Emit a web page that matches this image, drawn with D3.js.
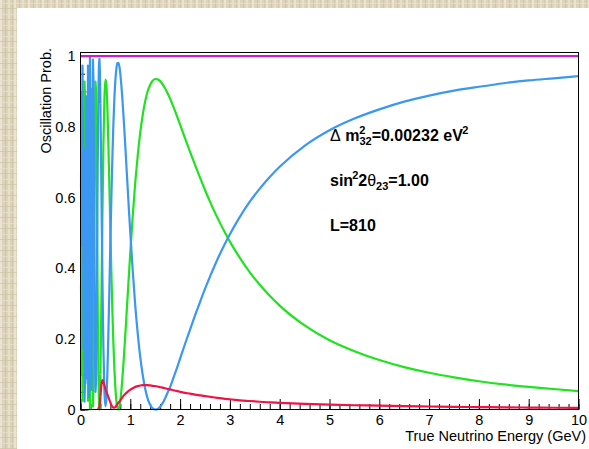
<!DOCTYPE html>
<html>
<head>
<meta charset="utf-8">
<script src="https://cdn.jsdelivr.net/npm/d3@7"></script>
<style>
body { margin: 0; }
svg { display: block; font-family: "Liberation Sans", Arial, sans-serif; }
</style>
</head>
<body>
<svg id="svg" width="589" height="449"></svg>
<script>
const width = 589;
const height = 449;

// true neutrino energy (GeV)
const energies = [
	0.01, 0.02, 0.03, 0.04, 0.05, 0.06, 0.07, 0.08, 0.09, 0.10,
	0.11, 0.12, 0.13, 0.14, 0.15, 0.16, 0.17, 0.18, 0.19, 0.20,
	0.21, 0.22, 0.23, 0.24, 0.25, 0.26, 0.27, 0.28, 0.29, 0.30,
	0.31, 0.32, 0.33, 0.34, 0.35, 0.36, 0.37, 0.38, 0.39,
	0.40, 0.42, 0.44, 0.46, 0.48, 0.50, 0.52, 0.54, 0.56, 0.58,
	0.60, 0.62, 0.64, 0.66, 0.68, 0.70, 0.72, 0.74, 0.76, 0.78,
	0.80, 0.82, 0.84, 0.86, 0.88, 0.90, 0.92, 0.94, 0.96, 0.98, 1.00,
	1.05, 1.10, 1.15, 1.20, 1.25, 1.30, 1.35, 1.40, 1.45, 1.50,
	1.55, 1.60, 1.65, 1.70, 1.75, 1.80, 1.85, 1.90, 1.95, 2.00,
	2.1, 2.2, 2.3, 2.4, 2.5, 2.6, 2.7, 2.8, 2.9, 3.0,
	3.2, 3.4, 3.6, 3.8, 4.0,
	4.5, 5.0, 5.5, 6.0, 6.5, 7.0, 7.5, 8.0, 8.5, 9.0, 9.5, 10.0
];

// numu -> numu (blue)
const numuSurvival = [
	.628, .897, .464, .973, .776, .171, .736, .022, .073, .074,
	.886, .310, .745, .087, .973, .468, .035, .631, .998, .632,
	.135, .055, .378, .780, .990, .933, .686, .389, .157, .050,
	.074, .201, .386, .585, .763, .897, .975, .992, .953,
	.865, .619, .369, .174, .053, .009, .032, .105, .215, .342,
	.474, .600, .712, .806, .879, .931, .964, .980, .981, .971,
	.949, .918, .881, .838, .792, .744, .694, .645, .595, .547, .500,
	.390, .293, .214, .148, .097, .058, .030, .013, .003, .000,
	.001, .008, .018, .032, .048, .064, .083, .103, .123, .144,
	.186, .226, .266, .304, .341, .376, .409, .440, .469, .496,
	.545, .588, .625, .658, .687,
	.746, .790, .823, .849, .871, .888, .902, .913, .923, .931, .937, .943
];

// numu -> nutau (green)
const nutauAppearance = [
	.352, .098, .506, .025, .212, .784, .250, .928, .879, .879,
	.108, .655, .242, .868, .025, .506, .919, .352, .001, .352,
	.829, .907, .598, .212, .009, .065, .304, .593, .821, .928,
	.907, .784, .603, .407, .231, .099, .021, .000, .029,
	.099, .311, .548, .748, .879, .933, .918, .852, .750, .631,
	.506, .387, .280, .189, .116, .062, .025, .005, .000, .007,
	.025, .052, .085, .124, .167, .212, .259, .306, .353, .399, .444,
	.550, .643, .720, .784, .834, .873, .901, .919, .930, .935,
	.934, .929, .920, .908, .894, .879, .862, .844, .825, .806,
	.767, .729, .692, .656, .621, .588, .557, .528, .501, .475,
	.429, .388, .353, .322, .294,
	.238, .196, .165, .140, .120, .104, .091, .080, .071, .064, .058, .052
];

// numu -> nue (red), hidden under the blue band at low energy
const nueAppearance = [
	null, null, null, null, null, null, null, null, null, null,
	null, null, null, null, null, null, null, null, null, null,
	null, null, null, null, null, null, null, null, null, null,
	null, null, null, null, .006, .004, .004, .008, .018,
	.036, .070, .083, .078, .068, .058, .050, .043, .035, .027,
	.020, .013, .008, .005, .005, .007, .011, .015, .019, .022,
	.026, .030, .034, .038, .041, .044, .047, .049, .052, .054, .056,
	.060, .064, .066, .068, .069, .069, .069, .068, .067, .066,
	.065, .063, .062, .060, .058, .057, .055, .053, .052, .050,
	.047, .045, .042, .040, .038, .036, .034, .032, .030, .029,
	.026, .024, .022, .020, .019,
	.016, .0136, .012, .011, .0095, .0085, .0075, .0068, .006, .0055, .005, .0045
];

// sum of all flavours (magenta)
const totalEnergies = [0, 10];
const totalProb = [1, 1];

const xTickValues = [0, 1, 2, 3, 4, 5, 6, 7, 8, 9, 10];
const yTickValues = [0, 0.2, 0.4, 0.6, 0.8, 1];
const yTickLabels = ['0', '0.2', '0.4', '0.6', '0.8', '1'];

const frame = { left: 80.5, right: 578.5, top: 52.5, bottom: 409.5 };
const tickFont = 14.5;
const titleFont = 14.5;
const splitEnergy = 0.40;

const svg = d3.select('#svg');

drawBackground();

const xScale = d3.scaleLinear().domain([0, 10]).range([frame.left, frame.right]);
const yScale = d3.scaleLinear().domain([0, 1.01]).range([frame.bottom, frame.top]);

drawAxes();
drawCurves();
drawLabels();

svg.append('rect')
	.attr('x', frame.left)
	.attr('y', frame.top)
	.attr('width', frame.right - frame.left)
	.attr('height', frame.bottom - frame.top)
	.attr('fill', 'none')
	.attr('stroke', '#000')
	.attr('stroke-width', 1);


function drawBackground() {
	const defs = svg.append('defs');
	const pat = defs.append('pattern')
		.attr('id', 'paper')
		.attr('patternUnits', 'userSpaceOnUse')
		.attr('width', 14)
		.attr('height', 11);
	pat.append('rect').attr('width', 14).attr('height', 11).attr('fill', '#dcd3ba');
	[[0, 2, '#ebe4d2'], [5, 1, '#cfc5a8'], [8, 2, '#e6dfcb'], [12, 1, '#d2c9ad']].forEach(s => {
		pat.append('rect').attr('x', s[0]).attr('y', 0).attr('width', s[1]).attr('height', 11).attr('fill', s[2]);
	});
	[[3, 1, '#e9e2cf'], [8, 1, '#cdc3a6']].forEach(s => {
		pat.append('rect').attr('x', 0).attr('y', s[0]).attr('width', 14).attr('height', s[1])
			.attr('fill', s[2]).attr('opacity', 0.7);
	});

	svg.append('rect').attr('width', width).attr('height', height).attr('fill', 'url(#paper)');
	svg.append('rect').attr('x', 17).attr('y', 8).attr('width', width - 17).attr('height', height - 8).attr('fill', '#fff');
}

function drawAxes() {
	const xMinor = svg.append('g')
		.attr('transform', 'translate(0,' + frame.bottom + ')')
		.call(d3.axisBottom(xScale).tickValues(d3.range(0, 10.001, 0.2)).tickSize(-5.5).tickFormat(''));
	const xMajor = svg.append('g')
		.attr('transform', 'translate(0,' + frame.bottom + ')')
		.call(d3.axisBottom(xScale).tickValues(xTickValues).tickSize(-10.5).tickPadding(5.5).tickFormat(d3.format('d')));

	const yMinor = svg.append('g')
		.attr('transform', 'translate(' + frame.left + ',0)')
		.call(d3.axisLeft(yScale).tickValues(d3.range(0, 1.001, 0.05)).tickSize(-4.5).tickFormat(''));
	const yMid = svg.append('g')
		.attr('transform', 'translate(' + frame.left + ',0)')
		.call(d3.axisLeft(yScale).tickValues(d3.range(0.1, 1.001, 0.2)).tickSize(-6).tickFormat(''));
	const yMajor = svg.append('g')
		.attr('transform', 'translate(' + frame.left + ',0)')
		.call(d3.axisLeft(yScale).tickValues(yTickValues).tickSize(-8).tickPadding(5)
			.tickFormat((d, i) => yTickLabels[i]));

	[xMinor, xMajor, yMinor, yMid, yMajor].forEach(g => {
		g.select('.domain').remove();
		g.selectAll('line').attr('stroke', '#000').attr('stroke-width', 1);
		g.selectAll('text')
			.attr('fill', '#000')
			.style('font-family', '"Liberation Sans", Arial, sans-serif')
			.style('font-size', tickFont + 'px');
	});
}

function drawCurves() {
	// green first so the fast blue oscillations cover it at low energy
	const series = [
		{ values: nutauAppearance, color: '#1fe31f' },
		{ values: numuSurvival, color: '#3a97f2' },
		{ values: nueAppearance, color: '#ee1446' }
	];

	// sharp polyline for the aliased low-energy part, smooth above it
	const lowLine = d3.line()
		.defined(d => d[1] != null && d[0] <= splitEnergy)
		.x(d => xScale(d[0]))
		.y(d => yScale(d[1]));
	const highLine = d3.line()
		.defined(d => d[1] != null && d[0] >= splitEnergy)
		.x(d => xScale(d[0]))
		.y(d => yScale(d[1]))
		.curve(d3.curveMonotoneX);

	series.forEach(s => {
		const pts = energies.map((e, i) => [e, s.values[i]]);
		[lowLine, highLine].forEach(line => {
			svg.append('path')
				.attr('d', line(pts))
				.attr('fill', 'none')
				.attr('stroke', s.color)
				.attr('stroke-width', 2.2)
				.attr('stroke-linejoin', 'round');
		});
	});

	svg.append('path')
		.attr('d', highLine.defined(() => true)(totalEnergies.map((e, i) => [e, totalProb[i]])))
		.attr('fill', 'none')
		.attr('stroke', '#c81ecf')
		.attr('stroke-width', 2.2);
}

function drawLabels() {
	svg.append('text')
		.attr('transform', 'translate(51,48) rotate(-90)')
		.attr('text-anchor', 'end')
		.style('font-size', titleFont + 'px')
		.text('Oscillation Prob.');

	svg.append('text')
		.attr('x', 586)
		.attr('y', 441)
		.attr('text-anchor', 'end')
		.style('font-size', titleFont + 'px')
		.text('True Neutrino Energy (GeV)');

	const big = 16;
	const small = 11;

	const t1 = svg.append('text').attr('x', 330).attr('y', 141)
		.style('font-size', big + 'px').style('font-weight', 'bold');
	t1.append('tspan').style('font-weight', 'normal').text('Δ');
	t1.append('tspan').text(' m');
	t1.append('tspan').attr('dy', -7).style('font-size', small + 'px').text('2');
	t1.append('tspan').attr('dx', -6.1).attr('dy', 11).style('font-size', small + 'px').text('32');
	t1.append('tspan').attr('dy', -4).text('=0.00232 eV');
	t1.append('tspan').attr('dx', -0.5).attr('dy', -7).style('font-size', small + 'px').text('2');

	const t2 = svg.append('text').attr('x', 330).attr('y', 186)
		.style('font-size', big + 'px').style('font-weight', 'bold');
	t2.append('tspan').text('sin');
	t2.append('tspan').attr('dx', -1).attr('dy', -7).style('font-size', small + 'px').text('2');
	t2.append('tspan').attr('dy', 7).text('2');
	t2.append('tspan').style('font-weight', 'normal').text('θ');
	t2.append('tspan').attr('dy', 4).style('font-size', small + 'px').text('23');
	t2.append('tspan').attr('dy', -4).text('=1.00');

	svg.append('text').attr('x', 330).attr('y', 231)
		.style('font-size', big + 'px').style('font-weight', 'bold')
		.text('L=810');
}
</script>
</body>
</html>
